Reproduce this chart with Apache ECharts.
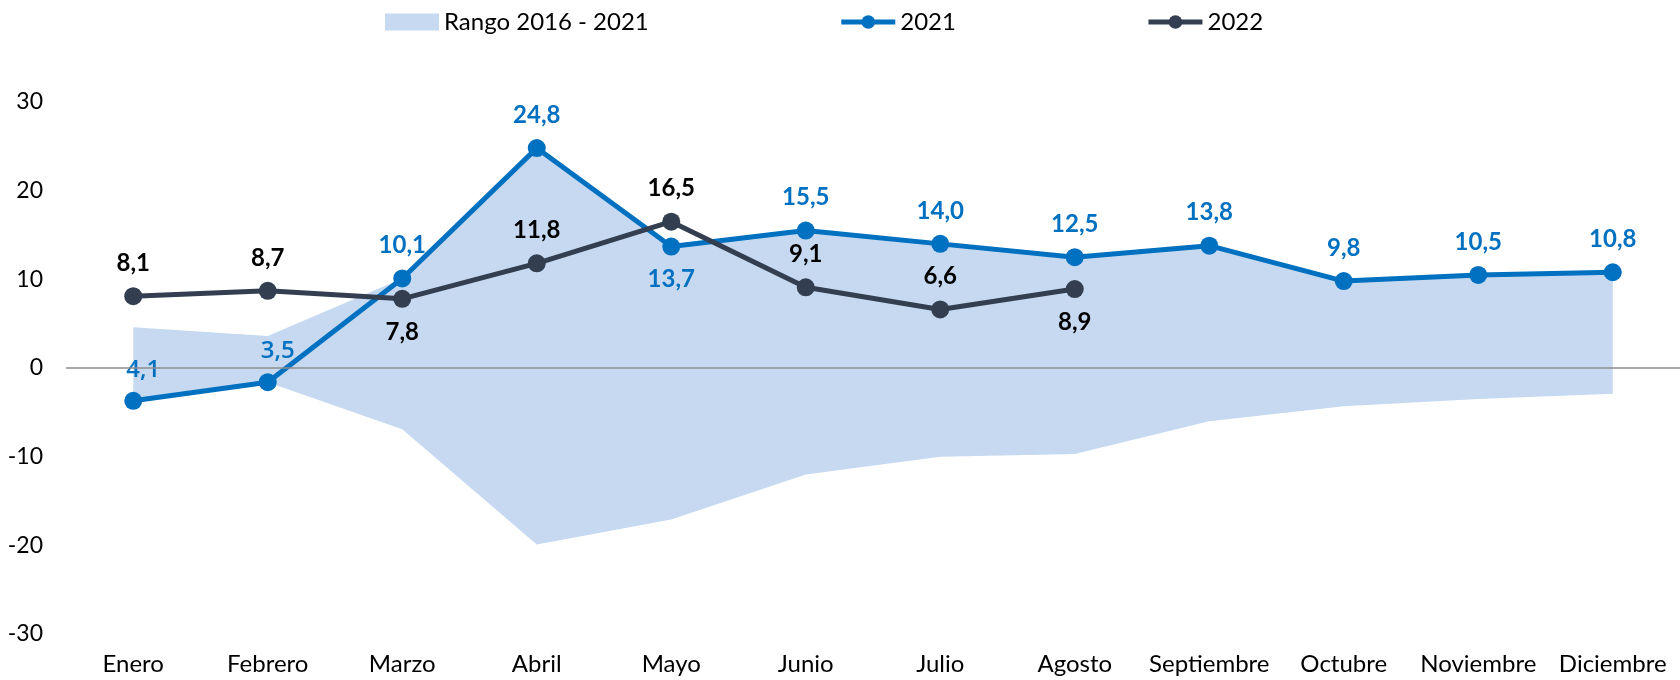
<!DOCTYPE html>
<html>
<head>
<meta charset="utf-8">
<script src="https://cdn.jsdelivr.net/npm/echarts@6/dist/echarts.min.js"></script>
<style>
  html, body { margin: 0; padding: 0; background: #fff; }
  #chart { width: 1680px; height: 680px; }
</style>
</head>
<body>
<div id="chart"></div>
<script>
const months = ['Enero', 'Febrero', 'Marzo', 'Abril', 'Mayo', 'Junio', 'Julio', 'Agosto',
    'Septiembre', 'Octubre', 'Noviembre', 'Diciembre'];

// range 2016 - 2021 (min / max)
const rangeLow = [-3.7, -1.6, -6.9, -19.9, -17.1, -12.0, -10.0, -9.7, -6.0, -4.3, -3.5, -2.9];
const rangeHigh = [4.6, 3.6, 10.1, 24.8, 13.7, 15.5, 14.0, 12.5, 13.8, 9.8, 10.5, 10.8];

const values2021 = [-3.7, -1.6, 10.1, 24.8, 13.7, 15.5, 14.0, 12.5, 13.8, 9.8, 10.5, 10.8];
const labels2021 = ['4,1', '3,5', '10,1', '24,8', '13,7', '15,5', '14,0', '12,5', '13,8', '9,8', '10,5', '10,8'];
const pos2021 = ['top', 'top', 'top', 'top', 'bottom', 'top', 'top', 'top', 'top', 'top', 'top', 'top'];

const values2022 = [8.1, 8.7, 7.8, 11.8, 16.5, 9.1, 6.6, 8.9, null, null, null, null];
const labels2022 = ['8,1', '8,7', '7,8', '11,8', '16,5', '9,1', '6,6', '8,9'];
const pos2022 = ['top', 'top', 'bottom', 'top', 'top', 'top', 'top', 'bottom'];

const yTicks = [-30, -20, -10, 0, 10, 20, 30];

const blue = '#0070C0';
const dark = '#333F50';
const band = '#C6D9F1';
const font = 'Lato';

const chart = echarts.init(document.getElementById('chart'));

const rangeDiff = rangeHigh.map((v, i) => +(v - rangeLow[i]).toFixed(1));

const option = {
    animation: false,
    textStyle: { fontFamily: font },
    legend: {
        top: 5,
        left: 380,
        itemGap: 190,
        itemWidth: 54,
        itemHeight: 17,
        lineStyle: { width: 5 },
        textStyle: { fontSize: 24, color: '#000', fontFamily: font },
        data: [
            { name: 'Rango 2016 - 2021', icon: 'rect', itemHeight: 15 },
            { name: '2021' },
            { name: '2022' }
        ]
    },
    grid: { left: 66, right: 0, top: 102, bottom: 46 },
    xAxis: {
        type: 'category',
        data: months,
        axisLine: { show: false },
        axisTick: { show: false },
        axisLabel: { fontSize: 24, color: '#000', margin: 18, interval: 0 }
    },
    yAxis: {
        type: 'value',
        min: yTicks[0],
        max: yTicks[yTicks.length - 1],
        interval: 10,
        splitLine: { show: false },
        axisLine: { show: false },
        axisTick: { show: false },
        axisLabel: { fontSize: 23, color: '#000', margin: 23 }
    },
    series: [
        {
            name: 'low',
            type: 'line',
            stack: 'range',
            stackStrategy: 'all',
            data: rangeLow,
            symbol: 'none',
            lineStyle: { opacity: 0 },
            silent: true,
            markLine: {
                silent: true,
                symbol: 'none',
                label: { show: false },
                lineStyle: { color: '#8c8c8c', width: 1.5, type: 'solid' },
                data: [{ yAxis: 0 }]
            }
        },
        {
            name: 'Rango 2016 - 2021',
            type: 'line',
            stack: 'range',
            stackStrategy: 'all',
            data: rangeDiff,
            symbol: 'none',
            lineStyle: { opacity: 0 },
            itemStyle: { color: band },
            areaStyle: { color: band, opacity: 1 }
        },
        {
            name: '2021',
            type: 'line',
            data: values2021.map((v, i) => ({
                value: v,
                label: i < 2
                    ? { position: 'top', fontWeight: 600, fontFamily: 'Open Sans', offset: [10, 2] }
                    : { position: pos2021[i] }
            })),
            symbol: 'circle',
            symbolSize: 18,
            lineStyle: { color: blue, width: 5 },
            itemStyle: { color: blue },
            label: {
                show: true,
                distance: 12,
                fontSize: 24,
                fontWeight: 'bold',
                color: blue,
                formatter: p => labels2021[p.dataIndex]
            },
            z: 3
        },
        {
            name: '2022',
            type: 'line',
            data: values2022.map((v, i) => ({
                value: v,
                label: { position: pos2022[i] || 'top' }
            })),
            symbol: 'circle',
            symbolSize: 18,
            lineStyle: { color: dark, width: 5 },
            itemStyle: { color: dark },
            label: {
                show: true,
                distance: 12,
                fontSize: 24,
                fontWeight: 'bold',
                color: '#000',
                formatter: p => labels2022[p.dataIndex]
            },
            z: 4
        }
    ]
};

chart.setOption(option);
window.addEventListener('resize', () => chart.resize());
</script>
</body>
</html>
